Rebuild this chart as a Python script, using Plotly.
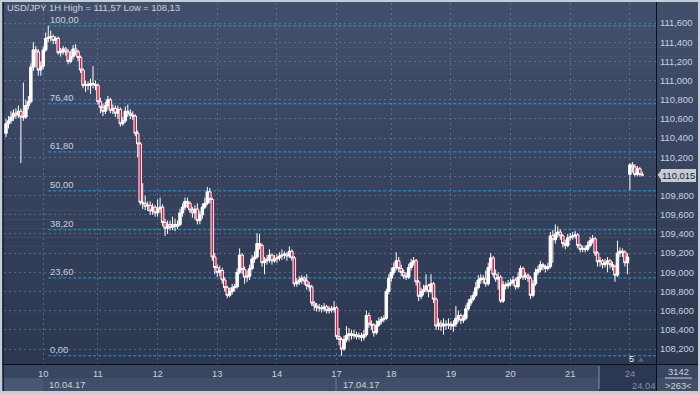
import plotly.graph_objects as go

symbol = "USD/JPY"
timeframe = "1H"

opens = [
    110.45, 110.55, 110.58, 110.62, 110.66, 110.64, 110.68, 110.62, 110.62, 110.74,
    110.78, 111.14, 111.32, 111.30, 111.11, 111.15, 111.32, 111.44, 111.45, 111.46,
    111.42, 111.44, 111.29, 111.30, 111.33, 111.30, 111.20, 111.25, 111.33, 111.30,
    111.24, 111.11, 110.95, 110.96, 110.95, 110.97, 110.96, 110.95, 110.78, 110.72,
    110.68, 110.74, 110.80, 110.69, 110.71, 110.66, 110.70, 110.55, 110.58, 110.68,
    110.66, 110.64, 110.63, 110.45, 110.34, 109.73, 109.72, 109.69, 109.70, 109.64,
    109.68, 109.62, 109.66, 109.68, 109.52, 109.46, 109.50, 109.47, 109.50, 109.48,
    109.50, 109.62, 109.68, 109.74, 109.72, 109.65, 109.62, 109.66, 109.54, 109.60,
    109.68, 109.72, 109.84, 109.76, 109.16, 109.05, 109.00, 109.02, 108.92, 108.84,
    108.76, 108.80, 108.84, 108.85, 109.00, 109.18, 109.03, 108.95, 108.96, 109.04,
    109.14, 109.16, 109.30, 109.28, 109.10, 109.12, 109.14, 109.18, 109.12, 109.14,
    109.15, 109.17, 109.18, 109.19, 109.17, 109.22, 109.15, 108.88, 108.90, 108.92,
    108.94, 108.91, 108.86, 108.85, 108.68, 108.65, 108.63, 108.63, 108.62, 108.64,
    108.60, 108.62, 108.61, 108.63, 108.33, 108.30, 108.20, 108.30, 108.34, 108.36,
    108.34, 108.35, 108.33, 108.34, 108.32, 108.35, 108.55, 108.46, 108.45, 108.37,
    108.45, 108.49, 108.51, 108.52, 108.80, 108.94, 109.00, 109.05, 109.12, 109.04,
    109.00, 108.96, 108.95, 109.05, 109.10, 109.12, 108.90, 108.75, 108.80, 108.82,
    108.86, 108.80, 108.88, 108.72, 108.44, 108.47, 108.44, 108.46, 108.45, 108.46,
    108.44, 108.46, 108.52, 108.55, 108.50, 108.52, 108.62, 108.68, 108.72, 108.76,
    108.84, 108.92, 108.94, 108.93, 108.88, 109.05, 109.15, 108.98, 108.93, 108.95,
    108.70, 108.87, 108.86, 108.88, 108.89, 108.92, 108.85, 108.95, 109.04, 108.95,
    108.97, 108.94, 108.76, 108.88, 109.00, 109.03, 109.08, 109.06, 109.04, 109.06,
    109.38, 109.34, 109.40, 109.42, 109.38, 109.30, 109.28, 109.36, 109.37, 109.38,
    109.39, 109.28, 109.24, 109.25, 109.24, 109.28, 109.33, 109.35, 109.20, 109.11,
    109.12, 109.08, 109.10, 109.12, 109.08, 109.06, 108.97, 109.20, 109.22, 109.21,
    109.10, 110.02, 110.12, 110.10, 110.02, 110.08, 110.02,
]
highs = [
    110.60, 110.63, 110.68, 110.70, 110.71, 110.74, 110.71, 110.98, 110.80, 110.84,
    111.18, 111.40, 111.36, 111.33, 111.20, 111.36, 111.50, 111.57, 111.52, 111.48,
    111.46, 111.46, 111.34, 111.36, 111.35, 111.33, 111.31, 111.37, 111.38, 111.32,
    111.26, 111.13, 111.00, 110.99, 111.02, 111.15, 111.00, 110.97, 110.82, 110.76,
    110.78, 110.84, 110.82, 110.75, 110.74, 110.74, 110.72, 110.62, 110.73, 110.75,
    110.70, 110.68, 110.65, 110.48, 110.36, 109.93, 109.80, 109.74, 109.74, 109.72,
    109.70, 109.76, 109.78, 109.71, 109.56, 109.54, 109.54, 109.58, 109.56, 109.54,
    109.66, 109.72, 109.78, 109.78, 109.74, 109.68, 109.70, 109.72, 109.64, 109.72,
    109.78, 109.89, 109.88, 109.78, 109.20, 109.08, 109.07, 109.05, 108.95, 108.86,
    108.84, 108.88, 108.88, 109.04, 109.25, 109.20, 109.06, 109.02, 109.08, 109.18,
    109.22, 109.41, 109.40, 109.30, 109.16, 109.18, 109.24, 109.20, 109.18, 109.19,
    109.21, 109.24, 109.22, 109.21, 109.27, 109.24, 109.17, 108.94, 108.96, 108.97,
    108.96, 108.98, 108.90, 108.87, 108.70, 108.68, 108.67, 108.66, 108.68, 108.66,
    108.65, 108.65, 108.70, 108.65, 108.42, 108.32, 108.34, 108.44, 108.42, 108.40,
    108.40, 108.38, 108.37, 108.37, 108.40, 108.60, 108.58, 108.50, 108.47, 108.50,
    108.53, 108.54, 108.55, 108.83, 108.98, 109.05, 109.10, 109.21, 109.16, 109.08,
    109.03, 109.00, 109.09, 109.14, 109.16, 109.14, 108.92, 108.84, 108.87, 108.98,
    108.88, 108.98, 108.90, 108.74, 108.52, 108.50, 108.52, 108.50, 108.52, 108.49,
    108.50, 108.65, 108.60, 108.57, 108.56, 108.66, 108.72, 108.76, 108.80, 108.90,
    108.97, 108.98, 108.97, 109.02, 109.10, 109.20, 109.17, 109.03, 109.00, 108.97,
    108.91, 108.90, 108.92, 108.93, 108.96, 108.94, 109.00, 109.07, 109.06, 109.00,
    108.99, 108.96, 108.92, 109.04, 109.07, 109.12, 109.10, 109.08, 109.10, 109.42,
    109.44, 109.50, 109.48, 109.45, 109.40, 109.34, 109.40, 109.41, 109.42, 109.43,
    109.41, 109.30, 109.28, 109.28, 109.32, 109.37, 109.39, 109.37, 109.22, 109.16,
    109.14, 109.14, 109.16, 109.14, 109.11, 109.08, 109.33, 109.26, 109.25, 109.23,
    109.20, 110.14, 110.15, 110.13, 110.11, 110.10, 110.05,
]
lows = [
    110.41, 110.50, 110.55, 110.58, 110.60, 110.61, 110.14, 110.58, 110.60, 110.70,
    110.76, 111.10, 111.14, 111.05, 111.05, 111.12, 111.30, 111.40, 111.41, 111.38,
    111.38, 111.27, 111.25, 111.27, 111.26, 111.17, 111.18, 111.22, 111.26, 111.20,
    111.08, 110.92, 110.88, 110.90, 110.86, 110.92, 110.90, 110.75, 110.66, 110.63,
    110.65, 110.70, 110.66, 110.65, 110.62, 110.60, 110.52, 110.53, 110.56, 110.62,
    110.60, 110.59, 110.42, 110.20, 109.70, 109.66, 109.65, 109.64, 109.60, 109.60,
    109.58, 109.58, 109.62, 109.48, 109.38, 109.40, 109.44, 109.44, 109.43, 109.45,
    109.48, 109.58, 109.65, 109.67, 109.62, 109.57, 109.55, 109.50, 109.50, 109.56,
    109.66, 109.70, 109.72, 109.12, 108.98, 108.95, 108.96, 108.88, 108.80, 108.73,
    108.74, 108.77, 108.80, 108.83, 108.98, 108.98, 108.88, 108.90, 108.92, 109.02,
    109.10, 109.14, 109.24, 109.06, 108.98, 109.08, 109.10, 109.08, 109.10, 109.10,
    109.12, 109.13, 109.14, 109.12, 109.15, 109.12, 108.85, 108.85, 108.87, 108.88,
    108.87, 108.82, 108.80, 108.65, 108.60, 108.59, 108.59, 108.58, 108.59, 108.57,
    108.57, 108.58, 108.58, 108.30, 108.24, 108.13, 108.18, 108.27, 108.28, 108.30,
    108.31, 108.30, 108.30, 108.28, 108.29, 108.33, 108.42, 108.40, 108.33, 108.35,
    108.43, 108.46, 108.48, 108.50, 108.77, 108.90, 108.97, 109.02, 109.00, 108.96,
    108.93, 108.92, 108.93, 109.02, 109.07, 108.86, 108.70, 108.72, 108.76, 108.79,
    108.74, 108.78, 108.68, 108.40, 108.40, 108.39, 108.35, 108.40, 108.41, 108.40,
    108.38, 108.43, 108.48, 108.46, 108.47, 108.50, 108.60, 108.65, 108.70, 108.74,
    108.82, 108.88, 108.88, 108.85, 108.86, 109.02, 108.95, 108.90, 108.82, 108.68,
    108.68, 108.82, 108.83, 108.85, 108.86, 108.82, 108.83, 108.93, 108.92, 108.92,
    108.90, 108.72, 108.74, 108.86, 108.97, 109.00, 109.02, 109.00, 109.02, 109.04,
    109.10, 109.30, 109.36, 109.34, 109.26, 109.24, 109.26, 109.33, 109.34, 109.35,
    109.25, 109.21, 109.21, 109.21, 109.22, 109.26, 109.30, 109.17, 109.06, 109.06,
    109.04, 109.05, 109.00, 109.04, 109.02, 108.90, 108.95, 109.16, 109.16, 109.06,
    108.98, 109.86, 110.04, 110.00, 110.00, 110.00, 110.00,
]
closes = [
    110.55, 110.58, 110.62, 110.66, 110.64, 110.68, 110.62, 110.62, 110.74, 110.78,
    111.14, 111.32, 111.30, 111.11, 111.15, 111.32, 111.44, 111.45, 111.46, 111.42,
    111.44, 111.29, 111.30, 111.33, 111.30, 111.20, 111.25, 111.33, 111.30, 111.24,
    111.11, 110.95, 110.96, 110.95, 110.97, 110.96, 110.95, 110.78, 110.72, 110.68,
    110.74, 110.80, 110.69, 110.71, 110.66, 110.70, 110.55, 110.58, 110.68, 110.66,
    110.64, 110.63, 110.45, 110.34, 109.73, 109.72, 109.69, 109.70, 109.64, 109.68,
    109.62, 109.66, 109.68, 109.52, 109.46, 109.50, 109.47, 109.50, 109.48, 109.50,
    109.62, 109.68, 109.74, 109.72, 109.65, 109.62, 109.66, 109.54, 109.60, 109.68,
    109.72, 109.84, 109.76, 109.16, 109.05, 109.00, 109.02, 108.92, 108.84, 108.76,
    108.80, 108.84, 108.85, 109.00, 109.18, 109.03, 108.95, 108.96, 109.04, 109.14,
    109.16, 109.30, 109.28, 109.10, 109.12, 109.14, 109.18, 109.12, 109.14, 109.15,
    109.17, 109.18, 109.19, 109.17, 109.22, 109.15, 108.88, 108.90, 108.92, 108.94,
    108.91, 108.86, 108.85, 108.68, 108.65, 108.63, 108.63, 108.62, 108.64, 108.60,
    108.62, 108.61, 108.63, 108.33, 108.30, 108.20, 108.30, 108.34, 108.36, 108.34,
    108.35, 108.33, 108.34, 108.32, 108.35, 108.55, 108.46, 108.45, 108.37, 108.45,
    108.49, 108.51, 108.52, 108.80, 108.94, 109.00, 109.05, 109.12, 109.04, 109.00,
    108.96, 108.95, 109.05, 109.10, 109.12, 108.90, 108.75, 108.80, 108.82, 108.86,
    108.80, 108.88, 108.72, 108.44, 108.47, 108.44, 108.46, 108.45, 108.46, 108.44,
    108.46, 108.52, 108.55, 108.50, 108.52, 108.62, 108.68, 108.72, 108.76, 108.84,
    108.92, 108.94, 108.93, 108.88, 109.05, 109.15, 108.98, 108.93, 108.95, 108.70,
    108.87, 108.86, 108.88, 108.89, 108.92, 108.85, 108.95, 109.04, 108.95, 108.97,
    108.94, 108.76, 108.88, 109.00, 109.03, 109.08, 109.06, 109.04, 109.06, 109.38,
    109.34, 109.40, 109.42, 109.38, 109.30, 109.28, 109.36, 109.37, 109.38, 109.39,
    109.28, 109.24, 109.25, 109.24, 109.28, 109.33, 109.35, 109.20, 109.11, 109.12,
    109.08, 109.10, 109.12, 109.08, 109.06, 108.97, 109.20, 109.22, 109.21, 109.10,
    109.16, 110.12, 110.10, 110.02, 110.08, 110.02, 110.015,
]

day_labels = ["10", "11", "12", "13", "14", "17", "18", "19", "20", "21", "24"]
day_first_bar = [15, 37, 61, 85, 109, 133, 155, 179, 203, 227, 251]
week_labels = ["10.04.17", "17.04.17"]
week_first_bar = [15, 133]
fib_levels = [0.0, 23.6, 38.2, 50.0, 61.8, 76.4, 100.0]
price_ticks = [108.2, 108.4, 108.6, 108.8, 109.0, 109.2, 109.4, 109.6, 109.8,
               110.0, 110.2, 110.4, 110.6, 110.8, 111.0, 111.2, 111.4, 111.6]

W, H = 700, 394
L_, R_, T_, B_ = 4, 44, 3, 30
PW, PH = W - L_ - R_, H - T_ - B_
XR = [-0.8, len(closes) + 4.5]
YR = [108.044, 111.809]

FONT = "Liberation Sans, Arial, sans-serif"
FS = 9.4
TXT = "#c9d1de"
DIM = "#8590a5"


def px(x):
    return (x - L_) / PW


def py(y):
    return (H - B_ - y) / PH


def comma(v, d):
    return f"{v:.{d}f}".replace(".", ",")


n = len(closes)
xs = list(range(n))

fig = go.Figure()
fig.add_trace(go.Candlestick(
    x=xs, open=opens, high=highs, low=lows, close=closes,
    increasing=dict(line=dict(color="#ffffff", width=1), fillcolor="#ffffff"),
    decreasing=dict(line=dict(color="#ffffff", width=1), fillcolor="#e8103c"),
    whiskerwidth=0, hoverinfo="skip", showlegend=False,
))

shapes = []
top_c = (66, 79, 107)
bot_c = (44, 55, 80)
NB = 40
y_top, y_bot = 2, H - B_
for k in range(NB):
    t = k / (NB - 1)
    c = tuple(round(top_c[j] + (bot_c[j] - top_c[j]) * t) for j in range(3))
    ya = y_top + (y_bot - y_top) * k / NB
    yb = y_top + (y_bot - y_top) * (k + 1) / NB
    shapes.append(dict(type="rect", xref="paper", yref="paper", layer="below",
                       x0=px(2), x1=px(698), y0=py(yb + 0.5), y1=py(ya),
                       fillcolor=f"rgb{c}", line=dict(width=0)))
shapes.append(dict(type="rect", xref="paper", yref="paper", layer="below",
                   x0=px(2), x1=px(698), y0=py(378), y1=py(364),
                   fillcolor="#39465f", line=dict(width=0)))
shapes.append(dict(type="rect", xref="paper", yref="paper", layer="below",
                   x0=px(2), x1=px(698), y0=py(391), y1=py(378),
                   fillcolor="#424e68", line=dict(width=0)))
shapes.append(dict(type="rect", xref="paper", yref="paper", layer="below",
                   x0=px(4), x1=px(43), y0=py(391), y1=py(378),
                   fillcolor="#4b5772", line=dict(width=0)))
shapes.append(dict(type="line", xref="paper", yref="paper", layer="below",
                   x0=px(336), x1=px(336), y0=py(391), y1=py(378),
                   line=dict(color="#6c7892", width=1)))
shapes.append(dict(type="rect", xref="paper", yref="paper", layer="below",
                   x0=px(599), x1=px(656), y0=py(391), y1=py(365),
                   fillcolor="#2c3751", line=dict(width=0)))
shapes.append(dict(type="line", xref="paper", yref="paper", layer="below",
                   x0=px(599), x1=px(599), y0=py(389), y1=py(366),
                   line=dict(color="#8a94a8", width=1)))
shapes.append(dict(type="line", xref="paper", yref="paper", layer="above",
                   x0=px(2), x1=px(698), y0=py(364.5), y1=py(364.5),
                   line=dict(color="#0b0f18", width=1)))
shapes.append(dict(type="line", xref="paper", yref="paper", layer="above",
                   x0=px(656.5), x1=px(656.5), y0=py(391), y1=py(2),
                   line=dict(color="#0b0f18", width=1)))
shapes.append(dict(type="line", xref="paper", yref="paper", layer="above",
                   x0=px(3.5), x1=px(3.5), y0=py(391), y1=py(2),
                   line=dict(color="#1a2132", width=1)))
shapes.append(dict(type="line", xref="paper", yref="paper", layer="above",
                   x0=px(665), x1=px(692), y0=py(378), y1=py(378),
                   line=dict(color="#c9d1de", width=1)))

hi = max(highs)
lo = min(lows)
i_hi = highs.index(hi)
annotations = []
for lvl in fib_levels:
    p = lo + (hi - lo) * lvl / 100.0
    shapes.append(dict(type="line", xref="x", yref="y", layer="between",
                       x0=i_hi, x1=XR[1], y0=p, y1=p,
                       line=dict(color="#1f9fe0", width=1, dash="3px,2px")))
    annotations.append(dict(x=i_hi, y=p, xref="x", yref="y", text=comma(lvl, 2),
                            showarrow=False, xanchor="left", yanchor="bottom",
                            xshift=0, yshift=-1,
                            font=dict(family=FONT, size=FS, color=TXT)))

last = closes[-1]
dy = 0.06
shapes.append(dict(type="path", xref="paper", yref="y", layer="above",
                   path=(f"M {px(657.5)},{last} L {px(662)},{last + dy} "
                         f"L {px(662)},{last - dy} Z"),
                   fillcolor="#c5cad3", line=dict(width=0)))
annotations.append(dict(x=px(661), y=last, xref="paper", yref="y",
                        text=comma(last, 3), showarrow=False,
                        xanchor="left", yanchor="middle",
                        bgcolor="#c5cad3", borderpad=1, borderwidth=0,
                        font=dict(family=FONT, size=FS, color="#1c2434")))


def note(x, y, text, color=TXT, xanchor="center"):
    annotations.append(dict(x=px(x), y=py(y), xref="paper", yref="paper",
                            text=text, showarrow=False,
                            xanchor=xanchor, yanchor="middle",
                            font=dict(family=FONT, size=FS, color=color)))


note(5, 8, f"{symbol} {timeframe} High = {comma(hi, 2)} Low = {comma(lo, 2)}",
     xanchor="left")
for lab, b in zip(week_labels, week_first_bar):
    annotations.append(dict(x=b, y=py(384.5), xref="x", yref="paper", text=lab,
                            showarrow=False, xanchor="left", yanchor="middle",
                            xshift=4, font=dict(family=FONT, size=FS, color=TXT)))
note(643, 385, "24.04", color=DIM)
note(631, 358.5, "5", color="#e8ecf2")
shapes.append(dict(type="path", xref="paper", yref="paper", layer="above",
                   path=f"M {px(638)},{py(361.5)} L {px(641)},{py(357.5)} L {px(644)},{py(361.5)} Z",
                   fillcolor="#5c6882", line=dict(width=0)))
note(678, 371, "3142")
note(678, 385, "&gt;263&lt;")

tick_text = [f'<span style="color:{DIM}">{d}</span>' if b >= 251 else d
             for d, b in zip(day_labels, day_first_bar)]
# the price tag hides the axis label that sits under it
price_text = ["" if abs(v - last) < 0.07 else comma(v, 3) for v in price_ticks]

grid_c = "rgba(125,138,165,0.55)"
fig.update_layout(
    width=W, height=H,
    margin=dict(l=L_, r=R_, t=T_, b=B_, pad=0, autoexpand=False),
    paper_bgcolor="#c6cdd8",
    plot_bgcolor="rgba(0,0,0,0)",
    showlegend=False,
    boxgap=0.0,
    boxgroupgap=0.0,
    shapes=shapes,
    annotations=annotations,
    font=dict(family=FONT, size=FS, color=TXT),
    xaxis=dict(
        range=XR, rangeslider=dict(visible=False), showline=False, zeroline=False,
        automargin=False,
        tickmode="array", tickvals=day_first_bar, ticktext=tick_text,
        ticks="", ticklabelstandoff=3, showgrid=True, gridcolor=grid_c,
        griddash="2px,3px", gridwidth=1,
        tickfont=dict(family=FONT, size=FS, color=TXT),
    ),
    yaxis=dict(
        range=YR, side="right", showline=False, zeroline=False,
        automargin=False,
        tickmode="array", tickvals=price_ticks, ticktext=price_text,
        ticks="", ticklabelstandoff=3, showgrid=True, gridcolor=grid_c,
        griddash="2px,3px", gridwidth=1,
        tickfont=dict(family=FONT, size=FS, color=TXT),
    ),
)

fig.write_html(
    "out.html",
    config={"displayModeBar": False, "staticPlot": True},
    post_script="document.body.style.margin='0px';document.body.style.padding='0px';"
                "document.body.style.overflow='hidden';",
)
